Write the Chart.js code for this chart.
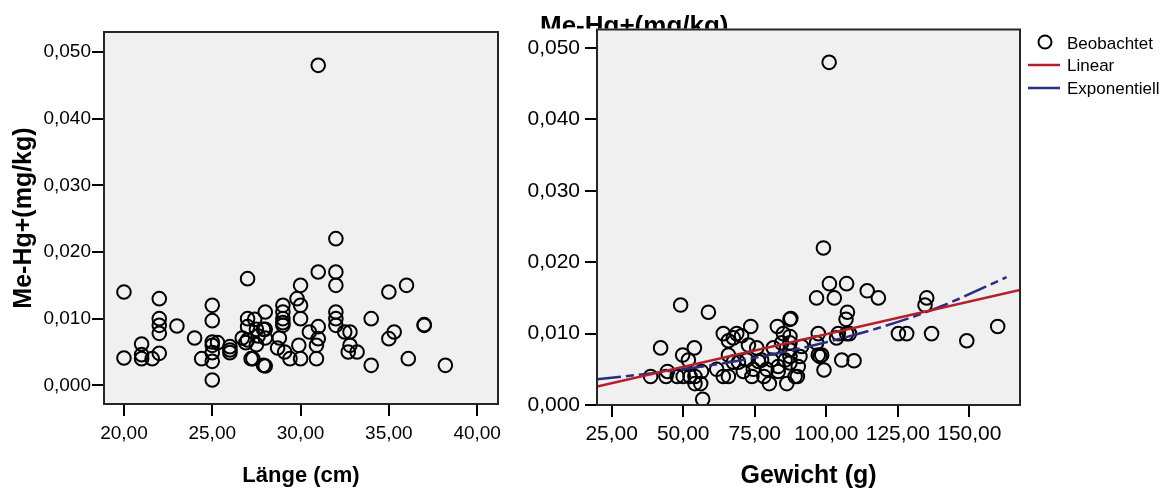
<!DOCTYPE html>
<html>
<head>
<meta charset="utf-8">
<script src="https://cdn.jsdelivr.net/npm/chart.js@4.4.1/dist/chart.umd.min.js"></script>
<style>
  html, body { margin: 0; padding: 0; background: #fff; }
  .wrap { position: absolute; top: 0; height: 490px; }
</style>
</head>
<body>
<div class="wrap" style="left:0;width:520px"><canvas id="laengeChart" width="520" height="490"></canvas></div>
<div class="wrap" style="left:520px;width:653px"><canvas id="gewichtChart" width="653" height="490"></canvas></div>
<script>
// Länge (cm) vs Me-Hg+ (mg/kg)
const laenge = [20, 20, 21, 21, 21, 21.6, 22, 22, 22, 22, 22, 23, 24, 24.4, 25, 25, 25, 25, 25, 25, 25, 25.3,
  26, 26, 26, 26.7, 27, 27, 27, 27, 26.9, 27.2, 27.3, 27.4, 27.5, 27.6, 27.5, 27.9, 28, 28, 28, 27.9, 28,
  28.8, 28.7, 29, 29, 29, 29, 29, 29.1, 29.4, 29.8, 30, 30, 30, 29.9, 30, 30.5, 30.9, 30.9, 31, 31, 31, 31,
  32, 32, 32, 32, 32, 32, 32.5, 32.8, 32.8, 32.7, 33.2, 34, 34, 35, 35, 35.3, 36, 36.1, 37, 37, 38.2];
const mehgLaenge = [0.014, 0.0041, 0.0062, 0.0046, 0.004, 0.004, 0.013, 0.01, 0.009, 0.0078, 0.0048, 0.0089, 0.0071, 0.004,
  0.012, 0.0097, 0.0065, 0.006, 0.0049, 0.0036, 0.0008, 0.0064, 0.0058, 0.0053, 0.0049, 0.0071, 0.016, 0.01, 0.0088,
  0.0068, 0.0064, 0.004, 0.004, 0.0099, 0.0084, 0.0074, 0.0061, 0.0084, 0.011, 0.0084, 0.0071, 0.003, 0.0029,
  0.0071, 0.0056, 0.012, 0.011, 0.01, 0.0094, 0.009, 0.005, 0.004, 0.013, 0.015, 0.012, 0.01, 0.006, 0.004, 0.008,
  0.004, 0.006, 0.0088, 0.007, 0.017, 0.048, 0.022, 0.017, 0.015, 0.011, 0.01, 0.009, 0.008, 0.008, 0.006, 0.005,
  0.005, 0.01, 0.003, 0.014, 0.007, 0.008, 0.015, 0.004, 0.009, 0.0091, 0.003];

// Gewicht (g) vs Me-Hg+ (mg/kg)
const gewicht = [38.6, 42.1, 44.0, 44.5, 47.9, 49.1, 49.8, 50.0, 51.8, 52.4, 53.9, 54.1, 54.1, 56.1, 56.8, 56.4, 58.8,
  61.7, 64.0, 64.0, 65.8, 65.8, 65.8, 67.5, 68.7, 70.4, 67.5, 69.3, 71.0, 72.2, 73.6, 72.8, 74.0, 74.5, 75.7, 76.3,
  77.4, 78.2, 79.2, 80.1, 80.9, 81.5, 82.9, 83.2, 83.2, 84.4, 85.0, 85.6, 86.2, 87.3, 87.6, 87.3, 87.3, 87.3, 87.3,
  87.3, 89.1, 89.9, 90.2, 90.8, 91.4, 96.6, 97.2, 96.6, 97.2, 98.4, 97.8, 99.0, 99.2, 101.1, 102.8, 103.6, 104.2,
  105.4, 107.1, 107.4, 106.9, 107.1, 108.1, 109.7, 114.3, 118.2, 125.2, 128.1, 134.5, 135.1, 136.8, 149.1, 159.9, 101.0];
const mehgGewicht = [0.004, 0.008, 0.004, 0.0047, 0.004, 0.014, 0.007, 0.004, 0.0063, 0.004, 0.008, 0.004, 0.003, 0.003,
  0.0008, 0.0047, 0.013, 0.005, 0.004, 0.01, 0.004, 0.007, 0.009, 0.0094, 0.01, 0.0097, 0.006, 0.006, 0.0047, 0.0063,
  0.011, 0.0084, 0.004, 0.005, 0.008, 0.0061, 0.0063, 0.004, 0.005, 0.003, 0.0063, 0.008, 0.011, 0.0054, 0.0047,
  0.0087, 0.01, 0.0063, 0.003, 0.012, 0.0121, 0.0096, 0.0087, 0.0077, 0.0068, 0.0059, 0.004, 0.004, 0.0054, 0.0068,
  0.0082, 0.015, 0.01, 0.0087, 0.007, 0.007, 0.0068, 0.022, 0.0049, 0.017, 0.015, 0.0094, 0.01, 0.0063, 0.017, 0.013,
  0.012, 0.01, 0.01, 0.0062, 0.016, 0.015, 0.01, 0.01, 0.014, 0.015, 0.01, 0.009, 0.011, 0.048];

// Anpassungslinien
const linearX = [19.9, 167.7];
const linearY = [0.0026, 0.0161];
const expX = [19.9, 40, 60, 80, 100, 120, 140, 163];
const expY = [0.0036, 0.0045, 0.0056, 0.0070, 0.0088, 0.0110, 0.0138, 0.0179];

// Achsenticks
const yTicks = [0, 0.01, 0.02, 0.03, 0.04, 0.05];
const laengeTicks = [20, 25, 30, 35, 40];
const gewichtTicks = [25, 50, 75, 100, 125, 150];

const FONT = "Arial, 'Liberation Sans', sans-serif";
const RED = '#b3202a';
const NAVY = '#2b2d80';

const toPoints = (xs, ys) => xs.map((x, i) => ({ x: x, y: ys[i] }));
const komma = (v, d) => v.toFixed(d).replace('.', ',');

// Hintergrund + Rahmen des Plotbereichs
const framePlugin = {
  id: 'frame',
  beforeDatasetsDraw(chart) {
    const { ctx, chartArea: a } = chart;
    ctx.save();
    ctx.fillStyle = '#f0f0f0';
    ctx.fillRect(a.left, a.top, a.right - a.left, a.bottom - a.top);
    ctx.restore();
  },
  afterDraw(chart) {
    const { ctx, chartArea: a } = chart;
    ctx.save();
    ctx.strokeStyle = '#262626';
    ctx.lineWidth = 2;
    ctx.strokeRect(a.left, a.top, a.right - a.left, a.bottom - a.top);
    ctx.restore();
  }
};

const pointStyle = {
  pointRadius: 6.8,
  pointBorderWidth: 2,
  borderColor: '#000',
  backgroundColor: 'rgba(0,0,0,0)',
  pointHoverRadius: 6.8
};

function axisX(min, max, ticks, title, fontSize, tickPad, titleSize, titlePad, height) {
  return {
    type: 'linear',
    position: 'bottom',
    min: min,
    max: max,
    afterBuildTicks: s => { s.ticks = ticks.map(v => ({ value: v })); },
    afterFit: s => { s.height = height; },
    grid: { drawOnChartArea: false, drawTicks: true, tickLength: 12, color: '#000', lineWidth: 2 },
    border: { display: false },
    ticks: {
      color: '#000',
      padding: tickPad,
      maxRotation: 0,
      font: { size: fontSize, family: FONT },
      callback: v => komma(v, 2)
    },
    title: {
      display: true,
      text: title,
      color: '#000',
      padding: { top: 0, bottom: titlePad },
      font: { size: titleSize, weight: 'bold', family: FONT, lineHeight: 1 }
    }
  };
}

function axisY(min, max, fontSize, width, pad, title) {
  return {
    type: 'linear',
    min: min,
    max: max,
    afterBuildTicks: s => { s.ticks = yTicks.map(v => ({ value: v })); },
    afterFit: s => { s.width = width; },
    grid: { drawOnChartArea: false, drawTicks: true, tickLength: 12, color: '#000', lineWidth: 2 },
    border: { display: false },
    ticks: {
      color: '#000',
      padding: pad,
      font: { size: fontSize, family: FONT },
      callback: v => komma(v, 3)
    },
    title: title ? {
      display: true,
      text: title,
      color: '#000',
      padding: { top: 12, bottom: 0 },
      font: { size: 25, weight: 'bold', family: FONT, lineHeight: 1 }
    } : { display: false }
  };
}

new Chart(document.getElementById('laengeChart'), {
  type: 'scatter',
  data: {
    datasets: [Object.assign({ label: 'Beobachtet', data: toPoints(laenge, mehgLaenge) }, pointStyle)]
  },
  options: {
    responsive: false,
    animation: false,
    layout: { padding: { left: 0, top: 32, right: 22, bottom: 0 } },
    plugins: { legend: { display: false }, tooltip: { enabled: false } },
    scales: {
      x: axisX(18.87, 41.18, laengeTicks, 'Länge (cm)', 19, 6, 22, 3.5, 86),
      y: axisY(-0.0028, 0.053, 19, 104, 1, 'Me-Hg+(mg/kg)')
    }
  },
  plugins: [framePlugin]
});

// Titel oben (vom Rahmen abgeschnitten) und Legende
const extrasPlugin = {
  id: 'extras',
  afterDraw(chart) {
    const { ctx, chartArea: a } = chart;
    ctx.save();
    ctx.beginPath();
    ctx.rect(0, 0, chart.width, a.top - 1);
    ctx.clip();
    ctx.fillStyle = '#000';
    ctx.font = 'bold 26px ' + FONT;
    ctx.textBaseline = 'alphabetic';
    ctx.fillText('Me-Hg+(mg/kg)', 20, 34);
    ctx.restore();

    ctx.save();
    ctx.font = '17px ' + FONT;
    ctx.fillStyle = '#000';
    ctx.textBaseline = 'middle';
    ctx.strokeStyle = '#000';
    ctx.lineWidth = 2;
    ctx.beginPath();
    ctx.arc(525, 42, 6.5, 0, Math.PI * 2);
    ctx.stroke();
    ctx.fillText('Beobachtet', 547, 44);
    ctx.lineWidth = 2.5;
    ctx.strokeStyle = RED;
    ctx.beginPath(); ctx.moveTo(508, 65); ctx.lineTo(540, 65); ctx.stroke();
    ctx.fillText('Linear', 547, 66);
    ctx.strokeStyle = NAVY;
    ctx.beginPath(); ctx.moveTo(508, 88); ctx.lineTo(540, 88); ctx.stroke();
    ctx.fillText('Exponentiell', 547, 89);
    ctx.restore();
  }
};

new Chart(document.getElementById('gewichtChart'), {
  type: 'scatter',
  data: {
    datasets: [
      {
        label: 'Linear',
        data: toPoints(linearX, linearY),
        showLine: true,
        borderColor: RED,
        borderWidth: 2.5,
        pointRadius: 0
      },
      {
        label: 'Exponentiell',
        data: toPoints(expX, expY),
        showLine: true,
        borderColor: NAVY,
        borderWidth: 2.5,
        borderDash: [24, 5, 8, 5],
        cubicInterpolationMode: 'monotone',
        pointRadius: 0
      },
      Object.assign({ label: 'Beobachtet', data: toPoints(gewicht, mehgGewicht) }, pointStyle)
    ]
  },
  options: {
    responsive: false,
    animation: false,
    layout: { padding: { left: 0, top: 29.5, right: 153, bottom: 0 } },
    plugins: { legend: { display: false }, tooltip: { enabled: false } },
    scales: {
      x: axisX(19.87, 167.7, gewichtTicks, 'Gewicht (g)', 21, 5, 25, 1, 85),
      y: axisY(0, 0.0526, 21, 77, 5, null)
    }
  },
  plugins: [framePlugin, extrasPlugin]
});
</script>
</body>
</html>
